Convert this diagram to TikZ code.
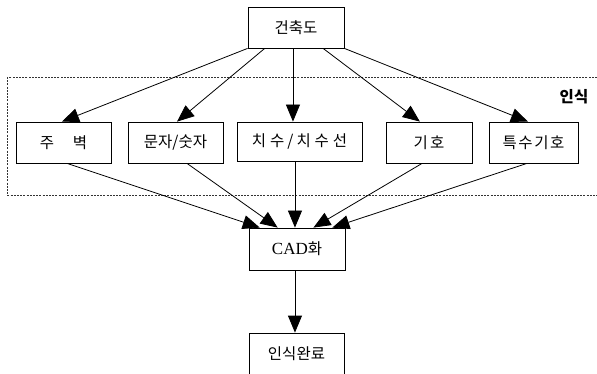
\documentclass[tikz,border=0pt]{standalone}
\usepackage{fontspec}
\setmainfont{Liberation Serif}
\newfontfamily\cjk{Noto Sans CJK KR}
\usetikzlibrary{arrows.meta,calc}
\begin{document}
\begin{tikzpicture}[x=1pt,y=-1pt,
  box/.style={draw=black,line width=0.8pt,inner sep=0pt,minimum height=41pt,
    font=\cjk\fontsize{15.5}{18}\selectfont},
  arr/.style={line width=0.8pt,-{Triangle[length=17pt,width=14pt]}},
  grp/.style={draw=black!80,line width=0.6pt,dash pattern=on 2pt off 1.2pt}]
\useasboundingbox (0,0) rectangle (597,374);
\draw[grp] (7,77) rectangle (600,195);
\node[font=\cjk\bfseries\fontsize{15.5}{18}\selectfont] (rec) at (574,96.5) {인식};
\node[box,minimum width=96pt] (top) at (296,27.5) {건축도};
\node[box,minimum width=95pt] (wall) at (63.5,142.5) {주\hspace{1.2em}벽};
\node[box,minimum width=95pt] (char) at (175.5,142.5) {문자/숫자};
\node[box,minimum width=125pt,minimum height=39pt] (dim) at (299.5,141.5) {치\hspace{0.25em}수\hspace{0.2em}/\hspace{0.2em}치\hspace{0.25em}수\hspace{0.25em}선};
\node[box,minimum width=86pt] (sym) at (429,142.5) {기\hspace{0.15em}호};
\node[box,minimum width=89pt] (spec) at (533.5,142.5) {특\hspace{0.1em}수\hspace{0.1em}기\hspace{0.1em}호};
\node[box,minimum width=96pt,minimum height=42pt] (cad) at (297,249) {{\rmfamily\fontsize{17}{18}\selectfont CAD}화};
\node[box,minimum width=95pt,minimum height=42pt] (done) at (296.5,354) {인식완료};
% anchor points
\coordinate (d1) at ($(dim.north west)!0.448!(dim.north east)$);
\coordinate (d2) at ($(dim.south west)!0.464!(dim.south east)$);
% from top
\draw[arr] (top.south west) -- ($(wall.north west)!0.484!(wall.north east)$);
\draw[arr] ($(top.south west)!0.177!(top.south east)$) -- ($(char.north west)!0.516!(char.north east)$);
\draw[arr] (top.south -| d1) -- (d1);
\draw[arr] ($(top.south west)!0.78!(top.south east)$) -- ($(sym.north west)!0.395!(sym.north east)$);
\draw[arr] (top.south east) -- ($(spec.north west)!0.438!(spec.north east)$);
% to cad
\draw[arr] ($(wall.south west)!0.537!(wall.south east)$) -- ($(cad.north west)!0.115!(cad.north east)$);
\draw[arr] ($(char.south west)!0.62!(char.south east)$) -- ($(cad.north west)!0.30!(cad.north east)$);
\draw[arr] (d2) -- (cad.north -| d2);
\draw[arr] ($(sym.south west)!0.42!(sym.south east)$) -- ($(cad.north west)!0.67!(cad.north east)$);
\draw[arr] ($(spec.south west)!0.427!(spec.south east)$) -- ($(cad.north west)!0.865!(cad.north east)$);
\draw[arr] (cad.south -| d2) -- (done.north -| d2);
\end{tikzpicture}
\end{document}
